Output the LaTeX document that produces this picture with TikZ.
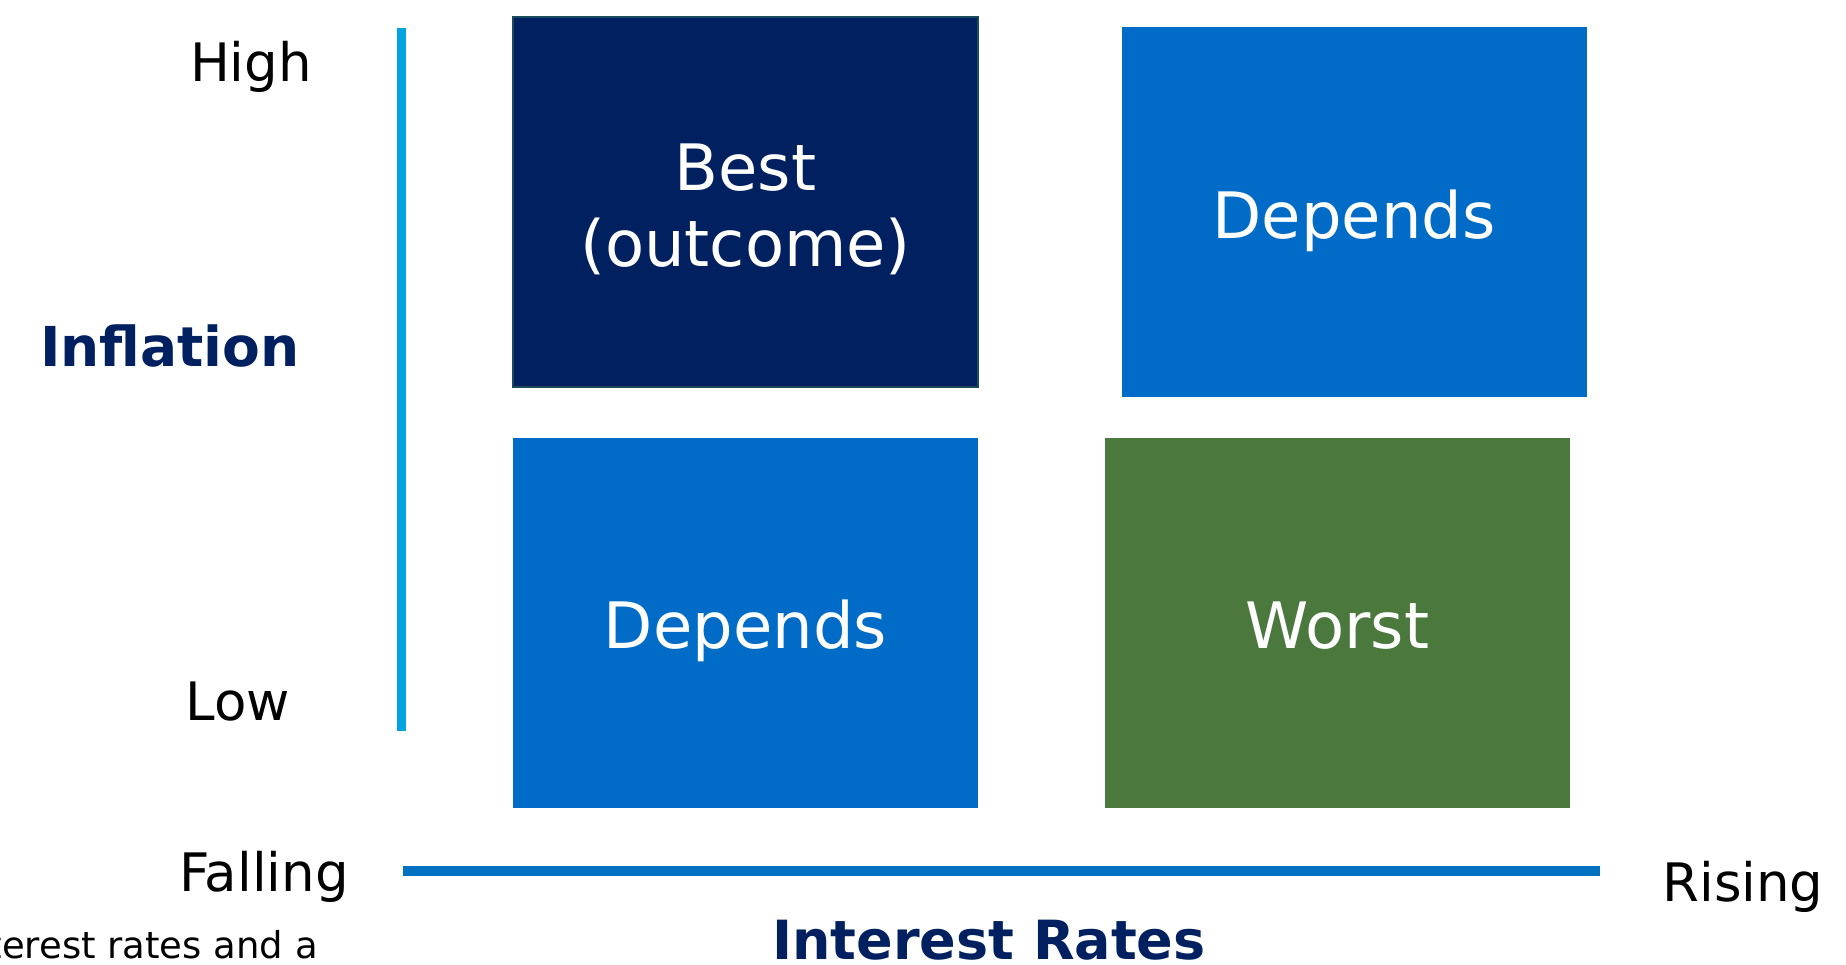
\documentclass[tikz,border=0pt]{standalone}
\usepackage{fontspec}
\setmainfont{DejaVu Sans}
\definecolor{navy}{HTML}{012060}
\definecolor{navyedge}{HTML}{1A4A5E}
\definecolor{midblue}{HTML}{016CC7}
\definecolor{leafgreen}{HTML}{4B783C}
\definecolor{skyline}{HTML}{02A4E0}
\definecolor{axisblue}{HTML}{0171C1}
\tikzset{
  quad/.style={rectangle, minimum width=465pt, minimum height=370pt, inner sep=0pt},
  quadtext/.style={inner sep=0pt, anchor=base, text=white, font=\fontsize{64}{76}\selectfont},
  axlabel/.style={inner sep=0pt, anchor=base, font=\fontsize{53}{60}\selectfont, text=black},
  axtitle/.style={inner sep=0pt, anchor=base, font=\fontsize{55}{60}\selectfont\bfseries, text=navy},
}
\begin{document}
\begin{tikzpicture}[x=1pt, y=-1pt]
\useasboundingbox (0,0) rectangle (1846,965);
\fill[white] (0,0) rectangle (1846,965);
% quadrant boxes
\node[quad, fill=navy, draw=navyedge, line width=1.5pt] (best) at (745.5,202) {};
\node[quad, fill=midblue] (dependsTR) at (1354,212) {};
\node[quad, fill=midblue] (dependsBL) at (745.5,623) {};
\node[quad, fill=leafgreen] (worst) at (1337.5,623) {};
% box texts
\node[quadtext] (bestA) at (745.5,191) {Best};
\node[quadtext] (bestB) at (745.5,267) {(outcome)};
\node[quadtext] (depA) at (1354,239) {Depends};
\node[quadtext] (depB) at (745.5,648) {Depends};
\node[quadtext] (worstT) at (1337.5,648) {Worst};
% axes
\coordinate (vtop) at (401,28);
\coordinate (vbot) at (401,731);
\coordinate (hleft) at (403,871);
\coordinate (hright) at (1600,871);
\draw[skyline, line width=9pt] (vtop) -- (vbot);
\draw[axisblue, line width=10pt] (hleft) -- (hright);
% axis labels
\node[axlabel] (high) at (251,82) {High};
\node[axtitle] (infl) at (170,366) {Inflation};
\node[axlabel] (low) at (238,720) {Low};
\node[axlabel] (falling) at (264,891) {Falling};
\node[axlabel] (rising) at (1743,901) {Rising};
\node[axtitle, font=\fontsize{54}{60}\selectfont\bfseries] (irates) at (989,959) {Interest Rates};
\node[inner sep=0pt, anchor=base east, font=\fontsize{37}{44}\selectfont, text=black] (cut) at (318,958) {terest rates and a};
\end{tikzpicture}
\end{document}
